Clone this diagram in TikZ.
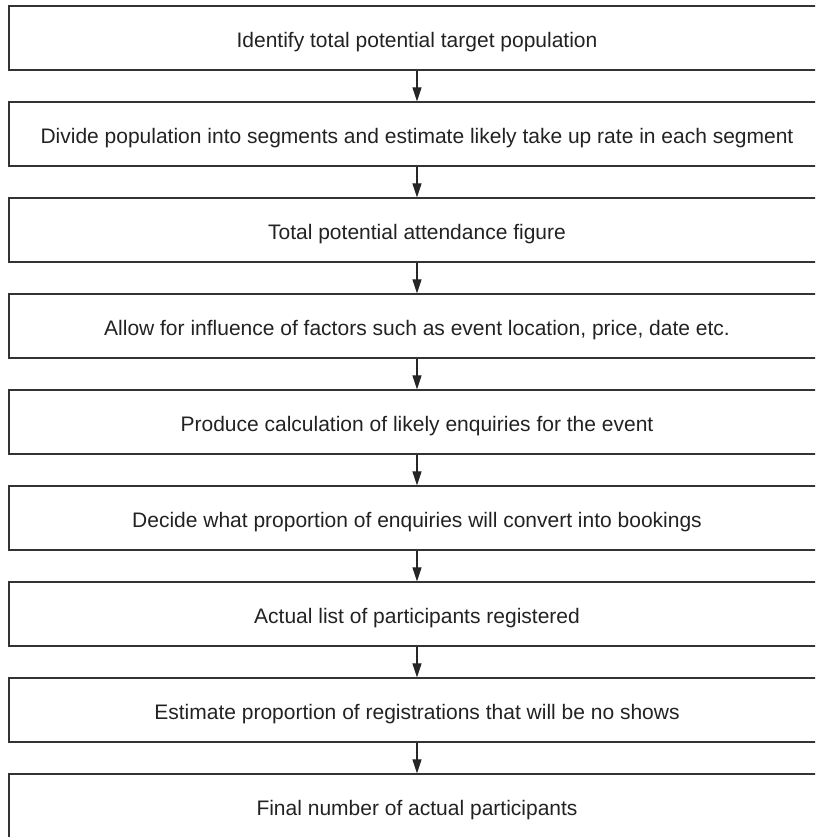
\documentclass[tikz,border=0pt]{standalone}
\usepackage{fontspec}
\setmainfont{Liberation Sans}
\usetikzlibrary{arrows.meta}
\definecolor{boxline}{HTML}{333333}
\definecolor{txt}{HTML}{222222}
\tikzset{
  stepbox/.style={draw=boxline, line width=1.3pt, minimum width=816pt, minimum height=64pt,
    inner sep=0pt, text=txt, font=\fontsize{21}{25}\selectfont, text height=19pt, text depth=0pt},
  flowarrow/.style={draw=black!85, line width=1.1pt, -{Triangle[length=14pt,width=9pt]}}
}
\begin{document}
\begin{tikzpicture}[x=1pt,y=1pt]
\useasboundingbox (0,0) rectangle (815,837);
\clip (0,0) rectangle (815,837);
\node[stepbox] (b1) at (417,799) {Identify total potential target population};
\node[stepbox] (b2) at (417,703) {Divide population into segments and estimate likely take up rate in each segment};
\node[stepbox] (b3) at (417,607) {Total potential attendance figure};
\node[stepbox] (b4) at (417,511) {Allow for influence of factors such as event location, price, date etc.};
\node[stepbox] (b5) at (417,415) {Produce calculation of likely enquiries for the event};
\node[stepbox] (b6) at (417,319) {Decide what proportion of enquiries will convert into bookings};
\node[stepbox] (b7) at (417,223) {Actual list of participants registered};
\node[stepbox] (b8) at (417,127) {Estimate proportion of registrations that will be no shows};
\node[stepbox] (b9) at (417,31) {Final number of actual participants};
\foreach \a/\b in {b1/b2,b2/b3,b3/b4,b4/b5,b5/b6,b6/b7,b7/b8,b8/b9}
  \draw[flowarrow] (\a.south) -- (\b.north);
\end{tikzpicture}
\end{document}
